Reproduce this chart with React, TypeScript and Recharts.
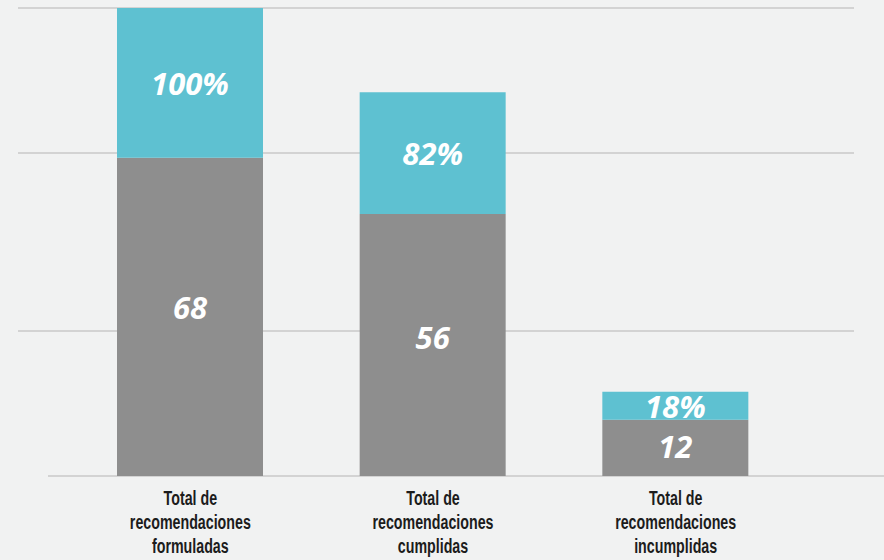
import React from 'react';
import { BarChart, Bar, CartesianGrid, XAxis, YAxis, LabelList } from 'recharts';

const categories = ['formuladas', 'cumplidas', 'incumplidas'];
const categoryLines = [
    ['Total de', 'recomendaciones', 'formuladas'],
    ['Total de', 'recomendaciones', 'cumplidas'],
    ['Total de', 'recomendaciones', 'incumplidas'],
];
const counts = [68, 56, 12];
const percents = [100, 82, 18];
const gridTicks = [0, 31, 69, 100];

const data = categories.map((key, i) => ({
    key,
    lines: categoryLines[i],
    count: counts[i],
    rest: percents[i] - counts[i],
    pct: percents[i],
}));

const TEAL = '#5ec1d1';
const GREY = '#8e8e8e';
const BG = '#f1f2f2';

const labelStyle = {
    fontFamily: '"Open Sans", sans-serif',
    fontWeight: 700,
    fontStyle: 'italic',
    fontSize: 31,
    fill: '#ffffff',
};

const CategoryTick = (props: any) => {
    const { x, y, index } = props;
    const lines = data[index]?.lines || [];
    // the original font is very condensed, squeeze it horizontally
    return (
        <text
            transform={`translate(${x},${y}) scale(0.73,1)`}
            x={0}
            y={0}
            textAnchor="middle"
            fill="#1c1c1c"
            style={{ fontFamily: '"Liberation Sans", sans-serif', fontWeight: 700, fontSize: 19.5 }}
        >
            {lines.map((l: string, i: number) => (
                <tspan key={i} x={0} dy={i === 0 ? 21 : 24}>
                    {l}
                </tspan>
            ))}
        </text>
    );
};

const noTick = () => <g />;

const gridLine = (p: any) => {
    // the baseline is shifted to the right, like in the original
    const base = p.y1 > 470;
    return (
        <line
            key={p.key ?? p.index}
            x1={base ? p.x1 + 30 : p.x1}
            x2={base ? p.x2 + 30 : p.x2}
            y1={p.y1}
            y2={p.y2}
            stroke="#c8c8c8"
            strokeWidth={1.5}
        />
    );
};

const countLabel = (props: any) => {
    const { x, y, width, height, value } = props;
    return (
        <text x={x + width / 2} y={y + height * 0.47} textAnchor="middle" dominantBaseline="central" style={labelStyle}>
            {value}
        </text>
    );
};

const pctLabel = (props: any) => {
    const { x, y, width, height, index } = props;
    return (
        <text x={x + width / 2} y={y + height / 2} textAnchor="middle" dominantBaseline="central" style={labelStyle}>
            {percents[index]}%
        </text>
    );
};

const App: React.FC = () => {
    return (
        <div style={{ position: 'absolute', left: 0, top: 0, width: 884, height: 560, background: BG }}>
            <BarChart width={884} height={560} data={data} margin={{ top: 8, right: 30, left: 18, bottom: 0 }} barSize={146}>
                <CartesianGrid vertical={false} horizontal={gridLine} />
                <XAxis
                    dataKey="key"
                    axisLine={false}
                    tickLine={false}
                    interval={0}
                    height={84}
                    padding={{ left: 51, right: 57 }}
                    tick={<CategoryTick />}
                />
                <YAxis
                    type="number"
                    domain={[0, 100]}
                    ticks={gridTicks}
                    interval={0}
                    width={0}
                    axisLine={false}
                    tickLine={false}
                    tick={noTick}
                />
                <Bar dataKey="count" stackId="a" fill={GREY} isAnimationActive={false}>
                    <LabelList dataKey="count" content={countLabel} />
                </Bar>
                <Bar dataKey="rest" stackId="a" fill={TEAL} isAnimationActive={false}>
                    <LabelList dataKey="pct" content={pctLabel} />
                </Bar>
            </BarChart>
        </div>
    );
};

export default App;
